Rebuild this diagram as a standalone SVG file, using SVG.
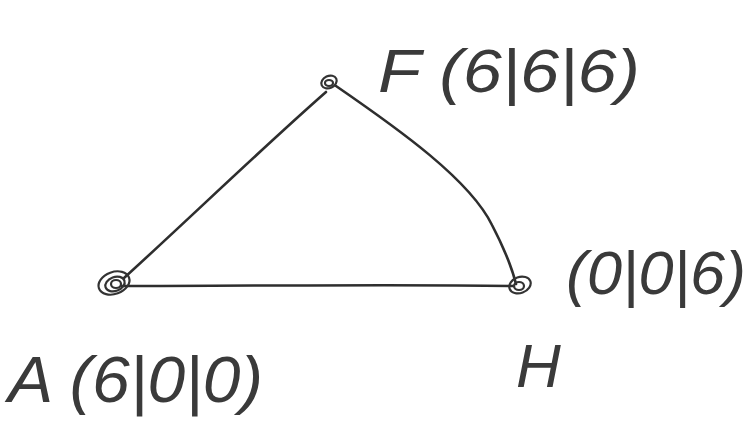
<svg xmlns="http://www.w3.org/2000/svg" width="749" height="423" viewBox="0 0 749 423">
<style>
.lbl{font-family:"Liberation Sans",Arial,sans-serif;font-style:italic;fill:#3a3a3a;}
.edge{fill:none;stroke:#2e2e2e;stroke-width:2.6;stroke-linecap:round;}
.ring{fill:none;stroke:#333;stroke-width:2.2;}
</style>
<rect width="749" height="423" fill="#ffffff"/>
<g id="connectors">
<path class="edge" d="M124,278 C190,218 260,150 326,92"/>
<path class="edge" d="M336,86 C400,130 470,180 492,225 C505,250 512,268 516,284"/>
<path class="edge" d="M122,286 C250,286 400,284 514,286"/>
</g>
<g id="node-F">
<ellipse class="ring" cx="329" cy="82" rx="8" ry="6" transform="rotate(-25 329 82)"/>
<ellipse class="ring" cx="329" cy="83" rx="4" ry="3"/>
<text class="lbl" x="378" y="92" font-size="62" textLength="262" lengthAdjust="spacingAndGlyphs">F (6|6|6)</text>
</g>
<g id="node-A">
<ellipse class="ring" cx="114" cy="283" rx="16" ry="11" transform="rotate(-20 114 283)"/>
<ellipse class="ring" cx="115" cy="284" rx="10" ry="7" transform="rotate(-20 115 284)"/>
<ellipse class="ring" cx="116" cy="284" rx="5" ry="4"/>
<text class="lbl" x="8" y="402" font-size="64" textLength="255" lengthAdjust="spacingAndGlyphs">A (6|0|0)</text>
</g>
<g id="node-H">
<ellipse class="ring" cx="520" cy="285" rx="11" ry="8" transform="rotate(-20 520 285)"/>
<ellipse class="ring" cx="519" cy="286" rx="5" ry="4"/>
<text class="lbl" x="566" y="294" font-size="62" textLength="180" lengthAdjust="spacingAndGlyphs">(0|0|6)</text>
<text class="lbl" x="516" y="387" font-size="62">H</text>
</g>
</svg>
